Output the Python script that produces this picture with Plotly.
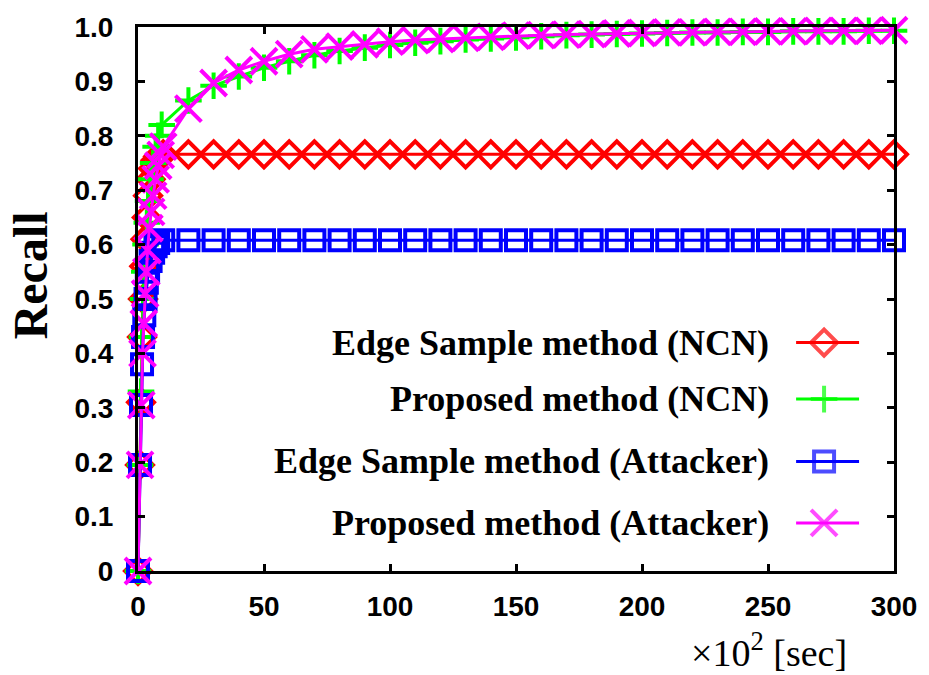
import plotly.graph_objects as go

# ---------------- data (x in units of 10^2 sec) ----------------
x_tail = [20, 30, 40, 50, 60, 70, 80, 90, 100, 110, 120, 130, 140, 150, 160,
          170, 180, 190, 200, 210, 220, 230, 240, 250, 260, 270, 280, 290, 300]

edge_ncn_x = [0, 0.8, 1.2, 1.6, 2.0, 2.5, 3.0, 3.5, 4.0, 5.0, 6.0, 7.0, 8.0, 10] + x_tail
edge_ncn_y = [0, 0.195, 0.31, 0.43, 0.50, 0.56, 0.61, 0.65, 0.69, 0.72, 0.74, 0.755, 0.762, 0.766] + [0.766] * 29

prop_ncn_x = [0, 0.8, 1.2, 1.6, 2.0, 2.5, 3.0, 3.5, 4.0, 5.0, 6.0, 7.0, 8.0, 9.4] + x_tail
prop_ncn_y = [0, 0.195, 0.33, 0.43, 0.50, 0.55, 0.60, 0.64, 0.68, 0.72, 0.75, 0.78, 0.80, 0.82,
              0.865, 0.892, 0.909, 0.925, 0.937, 0.948, 0.956, 0.962, 0.967, 0.971, 0.974,
              0.977, 0.979, 0.981, 0.983, 0.985, 0.986, 0.987, 0.988, 0.989, 0.990, 0.990,
              0.991, 0.991, 0.992, 0.992, 0.992, 0.993, 0.993]

edge_att_x = [0, 0.8, 1.2, 1.6, 2.0, 2.5, 3.0, 3.5, 4.0, 5.0, 6.0, 7.0, 8.0, 10] + x_tail
edge_att_y = [0, 0.195, 0.305, 0.38, 0.43, 0.47, 0.50, 0.53, 0.55, 0.57, 0.585, 0.597, 0.603, 0.608] + [0.608] * 29

prop_att_x = [0, 0.8, 1.3, 1.8, 2.3, 2.8, 3.3, 3.8, 4.5, 5.2, 6.0, 7.0, 8.0, 9.0, 10] + x_tail
prop_att_y = [0, 0.195, 0.305, 0.40, 0.455, 0.51, 0.55, 0.59, 0.63, 0.66, 0.69, 0.72, 0.745, 0.765, 0.78,
              0.850, 0.897, 0.921, 0.937, 0.950, 0.959, 0.964, 0.968, 0.973, 0.976, 0.978,
              0.980, 0.982, 0.984, 0.985, 0.986, 0.987, 0.988, 0.989, 0.990, 0.990, 0.991,
              0.991, 0.992, 0.992, 0.993, 0.993, 0.993, 0.994]

series_names = ["Edge Sample method (NCN)", "Proposed method (NCN)",
                "Edge Sample method (Attacker)", "Proposed method (Attacker)"]

x_tickvals = [0, 50, 100, 150, 200, 250, 300]
x_ticktext = ["0", "50", "100", "150", "200", "250", "300"]
y_tickvals = [0, 0.1, 0.2, 0.3, 0.4, 0.5, 0.6, 0.7, 0.8, 0.9, 1.0]
y_ticktext = ["0", "0.1", "0.2", "0.3", "0.4", "0.5", "0.6", "0.7", "0.8", "0.9", "1.0"]

# ---------------- styles ----------------
colors = ["#FF0000", "#00FF00", "#0000FF", "#FF00FF"]
symbols = ["diamond-open", "cross-thin-open", "square-open", "x-thin-open"]
sizes = [20, 19, 20, 26]

xs = [edge_ncn_x, prop_ncn_x, edge_att_x, prop_att_x]
ys = [edge_ncn_y, prop_ncn_y, edge_att_y, prop_att_y]

fig = go.Figure()
for name, x, y, c, s, sz in zip(series_names, xs, ys, colors, symbols, sizes):
    fig.add_trace(go.Scatter(
        x=x, y=y, mode="lines+markers", name=name, showlegend=False,
        line=dict(color=c, width=3),
        marker=dict(symbol=s, size=sz, color=c, line=dict(color=c, width=4)),
        cliponaxis=False,
    ))

# ---------------- custom legend (text left, key right) ----------------
leg_text_x = 0.8375
leg_key_x0, leg_key_xc, leg_key_x1 = 0.8705, 0.9075, 0.9538
leg_rows = [0.4199, 0.316, 0.2013, 0.0883]
for name, c, s, sz, ry in zip(series_names, colors, symbols, sizes, leg_rows):
    fig.add_trace(go.Scatter(
        x=[leg_key_x0, leg_key_xc, leg_key_x1], y=[ry, ry, ry],
        xaxis="x2", yaxis="y2", mode="lines+markers", showlegend=False,
        line=dict(color=c, width=3),
        marker=dict(symbol=s, size=[0, sz, 0], color=c, line=dict(color=c, width=4)),
        cliponaxis=False, hoverinfo="skip",
    ))
    fig.add_annotation(
        x=leg_text_x, y=ry, xref="paper", yref="paper", xanchor="right", yanchor="middle",
        text="<b>" + name + "</b>", showarrow=False,
        font=dict(family="Liberation Serif", size=36, color="black"),
    )

axis_common = dict(
    showline=True, linecolor="black", linewidth=3, mirror="ticks",
    ticks="inside", ticklen=7, tickwidth=3, tickcolor="black",
    showgrid=False, zeroline=False,
    tickfont=dict(family="Liberation Sans", size=28, color="black", weight="bold"),
)

fig.update_layout(
    width=929, height=675,
    margin=dict(l=138, r=34, t=21, b=104),
    plot_bgcolor="white", paper_bgcolor="white",
    xaxis=dict(range=[0, 300], tickvals=x_tickvals, ticktext=x_ticktext,
               ticklabelstandoff=8, **axis_common),
    yaxis=dict(range=[0, 1.0], tickvals=y_tickvals, ticktext=y_ticktext,
               ticklabelstandoff=16, **axis_common),
    xaxis2=dict(range=[0, 1], overlaying="x", anchor="y2", visible=False),
    yaxis2=dict(range=[0, 1], overlaying="y", anchor="x2", visible=False),
)

fig.add_annotation(
    x=-0.1427, y=0.5437, xref="paper", yref="paper", textangle=-90,
    text="<b>Recall</b>", showarrow=False, xanchor="center", yanchor="middle",
    font=dict(family="Liberation Serif", size=48, color="black"),
)
fig.add_annotation(
    x=0.835, y=-0.145, xref="paper", yref="paper",
    text="×10<sup>2</sup> [sec]", showarrow=False, xanchor="center", yanchor="middle",
    font=dict(family="Liberation Serif", size=38, color="black"),
)

fig.write_html("out.html")
